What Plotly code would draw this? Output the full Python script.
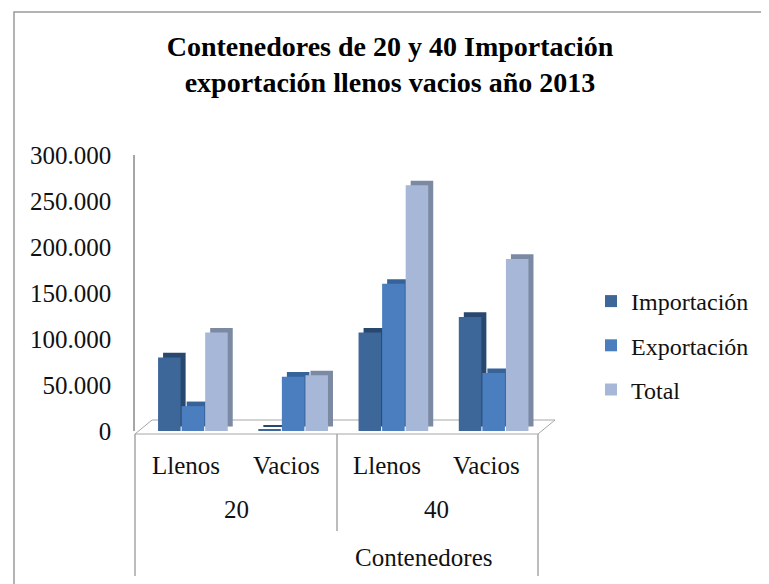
import plotly.graph_objects as go

# ---------------- data ----------------
tipos = ["Llenos", "Vacios", "Llenos", "Vacios"]
tamanos = ["20", "40"]
eje_titulo = "Contenedores"
series = ["Importación", "Exportación", "Total"]
importacion = [80000, 1500, 107000, 124000]
exportacion = [27000, 59000, 160000, 63000]
total = [107000, 60500, 267000, 187000]
tick_vals = [0, 50000, 100000, 150000, 200000, 250000, 300000]

values = [importacion, exportacion, total]
front_colors = ["#3d6699", "#4a7ebf", "#a7b7d8"]
side_colors = ["#284870", "#37639b", "#7c89a3"]

# ---------------- geometry helpers (screen pixels, page has 8px body margin) ----------------
OFF = 8
W, H = 769 - OFF, 584 - OFF
L, R, T, B = 135, 538, 155, 431
XR = [-0.6, 3.42]
YR = [0, 300000]


def pxx(px):
    return (px - L) / (R - L)


def pxy(py):
    return (B - py) / (B - T)


FONT = "Liberation Serif, Times New Roman, serif"
xs = list(range(len(tipos)))
bar_w = 0.225
offsets = [-0.37, -0.135, 0.10]
depth_x = 0.05
depth_y = 5000

fig = go.Figure()

# side faces (pseudo 3D), derived from the same data
for k, name in enumerate(series):
    fig.add_trace(go.Bar(
        x=xs, y=values[k], base=depth_y, width=bar_w, offset=offsets[k] + depth_x,
        marker=dict(color=side_colors[k], line=dict(width=0)),
        showlegend=False, hoverinfo="skip"))
# front faces
for k, name in enumerate(series):
    fig.add_trace(go.Bar(
        x=xs, y=values[k], width=bar_w, offset=offsets[k], name=name,
        legendgroup=name,
        marker=dict(color=front_colors[k], line=dict(width=0))))

shapes = []
grey = "#a6a6a6"
# chart outer border
shapes.append(dict(type="rect", xref="paper", yref="paper",
                   x0=pxx(14), x1=pxx(820), y0=pxy(12), y1=pxy(640),
                   line=dict(color="#9a9a9a", width=1.5), fillcolor="rgba(0,0,0,0)", layer="below"))
# floor
fx = [pxx(135), pxx(538), pxx(555), pxx(152)]
fy = [pxy(434), pxy(434), pxy(420), pxy(420)]
path = "M {} {} L {} {} L {} {} L {} {} Z".format(fx[0], fy[0], fx[1], fy[1], fx[2], fy[2], fx[3], fy[3])
shapes.append(dict(type="path", xref="paper", yref="paper", path=path,
                   line=dict(color=grey, width=1), fillcolor="white", layer="below"))
# category box lines
for xpx, ybot in [(135, 576), (337, 531), (538, 576)]:
    shapes.append(dict(type="line", xref="paper", yref="paper",
                       x0=pxx(xpx), x1=pxx(xpx), y0=pxy(434), y1=pxy(ybot),
                       line=dict(color=grey, width=1.5)))

annotations = []
lab_font = dict(family=FONT, size=25, color="#111111")
for i, t in enumerate(tipos):
    annotations.append(dict(x=i - 0.09, y=pxy(465), xref="x", yref="paper", text=t,
                            showarrow=False, font=lab_font, xanchor="center", yanchor="middle"))
for j, t in enumerate(tamanos):
    annotations.append(dict(x=2 * j + 0.5 - 0.09, y=pxy(509), xref="x", yref="paper", text=t,
                            showarrow=False, font=lab_font, xanchor="center", yanchor="middle"))
annotations.append(dict(x=pxx(423), y=pxy(557), xref="paper", yref="paper", text=eje_titulo,
                        showarrow=False, font=lab_font, xanchor="center", yanchor="middle"))

fig.update_layout(
    width=W, height=H,
    margin=dict(l=L - OFF, r=W - (R - OFF), t=T - OFF, b=H - (B - OFF), pad=0),
    paper_bgcolor="white", plot_bgcolor="rgba(0,0,0,0)",
    separators=",.",
    barmode="overlay",
    title=dict(text="<b>Contenedores de 20 y 40 Importación<br>exportación llenos vacios año 2013</b>",
               x=(390 - OFF) / W, xanchor="center", y=1 - 47.5 / H, yanchor="middle",
               font=dict(family=FONT, size=28, color="#000000")),
    xaxis=dict(range=XR, showticklabels=False, showgrid=False, zeroline=False,
               showline=False, ticks=""),
    yaxis=dict(range=YR, tickvals=tick_vals, tickformat=",.0f", showgrid=False,
               zeroline=False, showline=True, linecolor=grey, linewidth=1.5,
               ticks="", ticklabelstandoff=17,
               tickfont=dict(family=FONT, size=25, color="#111111")),
    legend=dict(x=pxx(591), y=pxy(279), xanchor="left", yanchor="top",
                font=dict(family=FONT, size=24, color="#111111"),
                tracegroupgap=10, bgcolor="rgba(0,0,0,0)", itemwidth=30),
    shapes=shapes, annotations=annotations,
    showlegend=True,
)

fig.write_html("out.html")
